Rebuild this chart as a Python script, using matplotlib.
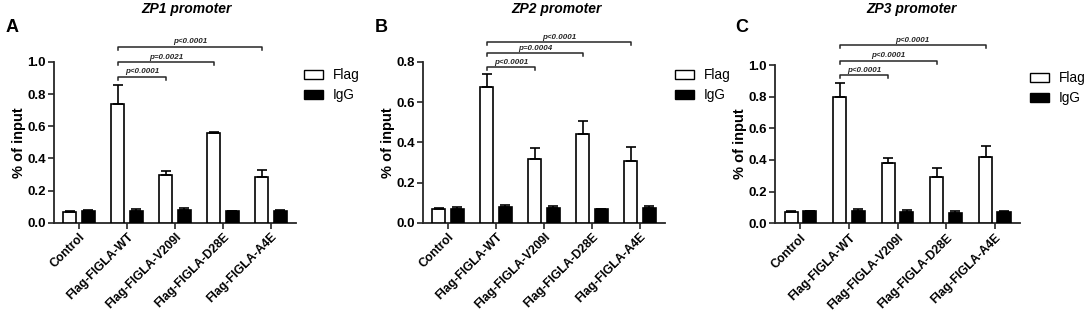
import numpy as np
import matplotlib
matplotlib.use("Agg")
import matplotlib.pyplot as plt
from matplotlib.patches import Patch

plt.rcParams['font.family'] = ['Liberation Sans', 'DejaVu Sans']

groups = ["Control", "Flag-FIGLA-WT", "Flag-FIGLA-V209I", "Flag-FIGLA-D28E", "Flag-FIGLA-A4E"]

# ZP1 promoter
zp1_flag = [0.065, 0.737, 0.295, 0.555, 0.285]
zp1_flag_err = [0.005, 0.118, 0.025, 0.012, 0.045]
zp1_igg = [0.070, 0.072, 0.082, 0.070, 0.072]
zp1_igg_err = [0.006, 0.016, 0.010, 0.002, 0.008]
zp1_p = ["p<0.0001", "p=0.0021", "p<0.0001"]

# ZP2 promoter
zp2_flag = [0.067, 0.677, 0.317, 0.441, 0.309]
zp2_flag_err = [0.008, 0.065, 0.056, 0.067, 0.069]
zp2_igg = [0.068, 0.080, 0.072, 0.068, 0.072]
zp2_igg_err = [0.012, 0.007, 0.011, 0.002, 0.013]
zp2_p = ["p<0.0001", "p=0.0004", "p<0.0001"]

# ZP3 promoter
zp3_flag = [0.073, 0.800, 0.383, 0.295, 0.420]
zp3_flag_err = [0.004, 0.088, 0.027, 0.054, 0.068]
zp3_igg = [0.078, 0.080, 0.070, 0.067, 0.070]
zp3_igg_err = [0.002, 0.008, 0.012, 0.010, 0.010]
zp3_p = ["p<0.0001", "p<0.0001", "p<0.0001"]

panels = [
    dict(letter="A", title="ZP1 promoter", flag=zp1_flag, flag_err=zp1_flag_err,
         igg=zp1_igg, igg_err=zp1_igg_err, pvals=zp1_p, ymax=1.0,
         rect=[0.0498, 0.2908, 0.2232, 0.5118], brk=[0.908, 0.998, 1.095],
         letter_xy=(12, 28), title_x=187, leg_x=304, leg_y=75),
    dict(letter="B", title="ZP2 promoter", flag=zp2_flag, flag_err=zp2_flag_err,
         igg=zp2_igg, igg_err=zp2_igg_err, pvals=zp2_p, ymax=0.8,
         rect=[0.3902, 0.2908, 0.2232, 0.5118], brk=[0.774, 0.843, 0.90],
         letter_xy=(381, 28), title_x=557, leg_x=675, leg_y=75),
    dict(letter="C", title="ZP3 promoter", flag=zp3_flag, flag_err=zp3_flag_err,
         igg=zp3_igg, igg_err=zp3_igg_err, pvals=zp3_p, ymax=1.0,
         rect=[0.7150, 0.2889, 0.2260, 0.5040], brk=[0.937, 1.027, 1.126],
         letter_xy=(742, 28), title_x=912, leg_x=1030, leg_y=78),
]

W, H = 1084, 314
fig = plt.figure(figsize=(W / 100, H / 100), dpi=100)

x = np.arange(len(groups))
bw = 0.27
off = 0.19
axcol = "#262626"

for p in panels:
    ax = fig.add_axes(p["rect"])
    n = len(groups)
    ax.bar(x - off, p["flag"], bw, color="white", edgecolor="black", linewidth=1.2,
           yerr=[np.zeros(n), p["flag_err"]], capsize=3.5,
           error_kw=dict(elinewidth=1.2, capthick=1.2, ecolor="black"), zorder=3)
    ax.bar(x + off, p["igg"], bw, color="black", edgecolor="black", linewidth=1.2,
           yerr=[np.zeros(n), p["igg_err"]], capsize=3.5,
           error_kw=dict(elinewidth=1.2, capthick=1.2, ecolor="black"), zorder=3)
    ax.set_xlim(-0.52, 4.52)
    ax.set_ylim(0, p["ymax"])
    ticks = np.arange(0, p["ymax"] + 0.001, 0.2)
    ax.set_yticks(ticks)
    ax.set_yticklabels([f"{v:.1f}" for v in ticks], fontweight="bold", fontsize=9.5)
    ax.set_xticks(x)
    ax.set_xticklabels(groups, rotation=45, ha="right", rotation_mode="anchor",
                       fontweight="bold", fontsize=8.7)
    ax.spines["top"].set_visible(False)
    ax.spines["right"].set_visible(False)
    for s in ["left", "bottom"]:
        ax.spines[s].set_linewidth(1.3)
        ax.spines[s].set_color(axcol)
    ax.tick_params(axis="both", direction="out", length=4, width=1.2, color=axcol, pad=2)
    ax.set_ylabel("% of input", fontweight="bold", fontsize=10.5, labelpad=1)

    # significance brackets from WT flag bar to each mutant flag bar
    drop = 0.018 * p["ymax"]
    x0 = x[1] - off
    for tgt, yb, lab in zip([2, 3, 4], p["brk"], p["pvals"]):
        x1 = x[tgt] - off
        ax.plot([x0, x0, x1, x1], [yb - drop, yb, yb, yb - drop], color=axcol,
                linewidth=1.1, clip_on=False)
        ax.text((x0 + x1) / 2, yb + 0.008 * p["ymax"], lab, ha="center", va="bottom",
                fontsize=5.8, fontweight="bold", fontstyle="italic", color=axcol)

    handles = [Patch(facecolor="white", edgecolor="black", linewidth=1.0, label="Flag"),
               Patch(facecolor="black", edgecolor="black", label="IgG")]
    fig.legend(handles=handles, loc="upper left",
               bbox_to_anchor=(p["leg_x"] / W, 1 - (p["leg_y"] - 7) / H),
               frameon=False, fontsize=9.8, handlelength=1.4, handleheight=0.6,
               labelspacing=0.45, handletextpad=0.7, borderpad=0, borderaxespad=0)

    fig.text(p["title_x"] / W, 1 - 9 / H, p["title"], ha="center", va="center",
             fontsize=10, fontweight="bold", fontstyle="italic")
    fig.text(p["letter_xy"][0] / W, 1 - p["letter_xy"][1] / H, p["letter"],
             ha="center", va="center", fontsize=13, fontweight="bold")

fig.savefig("out.png", dpi=100)
